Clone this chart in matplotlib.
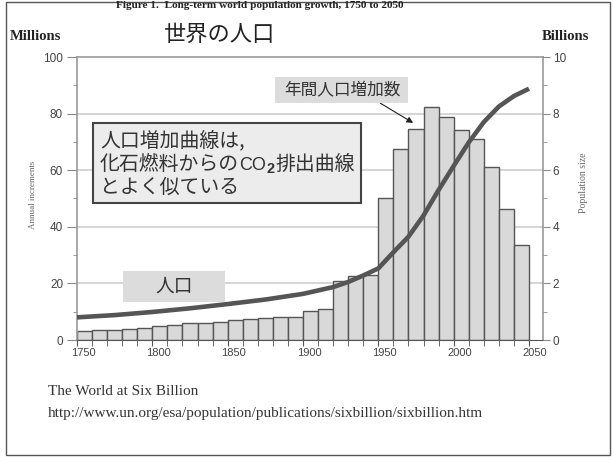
import matplotlib
matplotlib.use("Agg")
import matplotlib.pyplot as plt
import matplotlib.transforms as mtransforms
from matplotlib.patches import Rectangle
from matplotlib.ticker import MultipleLocator

# annual increments (millions), one bar per decade
bar_years = [1750, 1760, 1770, 1780, 1790, 1800, 1810, 1820, 1830, 1840,
             1850, 1860, 1870, 1880, 1890, 1900, 1910, 1920, 1930, 1940,
             1950, 1960, 1970, 1980, 1990, 2000, 2010, 2020, 2030, 2040]
increments = [3.3, 3.5, 3.5, 3.9, 4.2, 5.0, 5.4, 5.9, 5.9, 6.2,
              7.0, 7.4, 7.9, 8.3, 8.3, 10.1, 10.8, 20.8, 22.6, 23.0,
              50.0, 67.4, 74.5, 82.5, 78.7, 74.2, 71.0, 61.2, 46.2, 33.4]

# population size (billions)
pop_years = [1750, 1775, 1800, 1825, 1850, 1875, 1900, 1910, 1920, 1930,
             1940, 1950, 1960, 1970, 1980, 1990, 2000, 2010, 2020, 2030,
             2040, 2050]
population = [0.80, 0.88, 0.99, 1.12, 1.27, 1.43, 1.63, 1.75, 1.87, 2.05,
              2.28, 2.53, 3.10, 3.65, 4.40, 5.30, 6.15, 6.98, 7.70, 8.25,
              8.62, 8.88]

W, H = 613, 461
JP = ["Noto Sans CJK JP", "DejaVu Sans"]
SERIF = "Liberation Serif"
SANS = "Liberation Sans"
GRAY = "#444444"
INK = "#333333"


def fx(px):
    return px / W


def fy(py):
    return 1 - py / H


fig = plt.figure(figsize=(W / 100, H / 100), dpi=100)
ax = fig.add_axes([fx(77), fy(340), fx(543) - fx(77), fy(57) - fy(340)])

ax.bar(bar_years, increments, width=10, align="edge", color="#d9d9d9",
       edgecolor="#555555", linewidth=1.0, zorder=2)
ax.set_xlim(1750, 2059.3)
ax.set_ylim(0, 100)
for v in [20, 40, 60, 80]:
    ax.axhline(v, color="#d2d2d2", lw=1.3, zorder=1)

ax.xaxis.set_major_locator(MultipleLocator(50))
ax.xaxis.set_minor_locator(MultipleLocator(10))
ax.yaxis.set_major_locator(MultipleLocator(20))
ax.yaxis.set_minor_locator(MultipleLocator(10))
ax.set_xticks(range(1750, 2051, 50))
ax.tick_params(axis="x", which="both", direction="out", length=4,
               color="#555555", labelsize=8, labelcolor=GRAY, pad=2)
ax.tick_params(axis="y", which="both", direction="out", color="#888888",
               labelsize=8.5, labelcolor=GRAY, pad=3)
ax.tick_params(axis="y", which="major", length=7)
ax.tick_params(axis="y", which="minor", length=3)
for lab in ax.get_xticklabels() + ax.get_yticklabels():
    lab.set_fontfamily(SANS)
shift = mtransforms.ScaledTranslation(6 / 100, 0, fig.dpi_scale_trans)
for lab in ax.get_xticklabels():
    lab.set_transform(lab.get_transform() + shift)

for side in ["top", "left", "right"]:
    ax.spines[side].set_color("#999999")
    ax.spines[side].set_linewidth(1.2)
ax.spines["bottom"].set_color("#555555")

ax2 = ax.twinx()
ax2.plot(pop_years, population, color="#555555", lw=3.3,
         solid_capstyle="butt", solid_joinstyle="round", zorder=3)
ax2.set_ylim(0, 10)
ax2.yaxis.set_major_locator(MultipleLocator(2))
ax2.yaxis.set_minor_locator(MultipleLocator(1))
ax2.tick_params(axis="y", which="both", direction="out", color="#888888",
                labelsize=8.5, labelcolor=GRAY, pad=2)
ax2.tick_params(axis="y", which="major", length=5)
ax2.tick_params(axis="y", which="minor", length=3)
for lab in ax2.get_yticklabels():
    lab.set_fontfamily(SANS)
for side in ax2.spines:
    ax2.spines[side].set_visible(False)

# headings
fig.text(fx(260), fy(5), "Figure 1.  Long-term world population growth, 1750 to 2050",
         family=SERIF, weight="bold", fontsize=8.1, color="#222222",
         ha="center", va="center")
fig.text(fx(10), fy(37), "Millions", family=SERIF, weight="bold",
         fontsize=10.5, color="#222222", va="center")
fig.text(fx(542), fy(36), "Billions", family=SERIF, weight="bold",
         fontsize=10.5, color="#222222", va="center")
fig.text(fx(220), fy(34), "世界の人口", family=JP, fontsize=16,
         color="#222222", ha="center", va="center")
fig.text(fx(33), fy(195), "Annual increments", family=SERIF, fontsize=6.5,
         color="#666666", rotation=90, ha="center", va="center")
fig.text(fx(584), fy(183), "Population size", family=SERIF, fontsize=7,
         color="#666666", rotation=90, ha="center", va="center")

# callouts drawn on top axes, positioned in figure pixels
tf = fig.transFigure
ax2.add_patch(Rectangle((fx(93), fy(203)), fx(361) - fx(93), fy(123) - fy(203),
                        transform=tf, facecolor="#ececec", edgecolor="#444444",
                        lw=1.5, zorder=5, clip_on=False))
box_kw = dict(family=JP, fontsize=14.3, color=INK, va="center", zorder=6,
              transform=tf, clip_on=False)
ax2.text(fx(100), fy(141), "人口増加曲線は,", **box_kw)

# second line: pieces chained left to right on a shared baseline
base = 170
t1 = ax2.text(fx(100), fy(base), "化石燃料からの", family=JP, fontsize=14.3,
              color=INK, va="baseline", zorder=6, transform=tf)
tco = ax2.annotate("CO", xy=(1, fy(base)), xycoords=(t1, tf), xytext=(0.3, 0),
                   textcoords="offset points", family=SANS, fontsize=13,
                   color=INK, va="baseline", ha="left", zorder=6,
                   annotation_clip=False)
tsub = ax2.annotate("2", xy=(1, fy(base + 3)), xycoords=(tco, tf),
                    xytext=(0.3, 0), textcoords="offset points", family=SANS,
                    weight="bold", fontsize=10.5, color=INK, va="baseline",
                    ha="left", zorder=6, annotation_clip=False)
ax2.annotate("排出曲線", xy=(1, fy(base)), xycoords=(tsub, tf), xytext=(0.3, 0),
             textcoords="offset points", family=JP, fontsize=14.3,
             color=INK, va="baseline", ha="left", zorder=6,
             annotation_clip=False)
ax2.text(fx(100), fy(187), "とよく似ている", **box_kw)

ax2.add_patch(Rectangle((fx(275), fy(103)), fx(408) - fx(275), fy(77) - fy(103),
                        transform=tf, facecolor="#dcdcdc", edgecolor="none",
                        zorder=5, clip_on=False))
ax2.text(fx(342), fy(90), "年間人口増加数", family=JP, fontsize=12,
         color=INK, ha="center", va="center", zorder=6, transform=tf)
ax.annotate("", xy=(1973.1, 76.7), xytext=(1951.3, 83.7),
            arrowprops=dict(arrowstyle="-|>", color="#222222", lw=0.8,
                            mutation_scale=9, shrinkA=0, shrinkB=0),
            zorder=6)

ax2.add_patch(Rectangle((fx(123), fy(302)), fx(225) - fx(123), fy(271) - fy(302),
                        transform=tf, facecolor="#dcdcdc", edgecolor="none",
                        zorder=5, clip_on=False))
ax2.text(fx(174), fy(286), "人口", family=JP, fontsize=13.5,
         color=INK, ha="center", va="center", zorder=6, transform=tf)

# source
fig.text(fx(48), fy(391), "The World at Six Billion", family=SERIF,
         fontsize=11, color=INK, va="center")
fig.text(fx(48), fy(413),
         "http://www.un.org/esa/population/publications/sixbillion/sixbillion.htm",
         family=SERIF, fontsize=11, color=INK, va="center")

fig.add_artist(Rectangle((fx(6), fy(455)), fx(610) - fx(6), fy(2) - fy(455),
                         transform=tf, facecolor="none",
                         edgecolor="#555555", lw=1.0, zorder=0))

fig.savefig("out.png", dpi=100)
